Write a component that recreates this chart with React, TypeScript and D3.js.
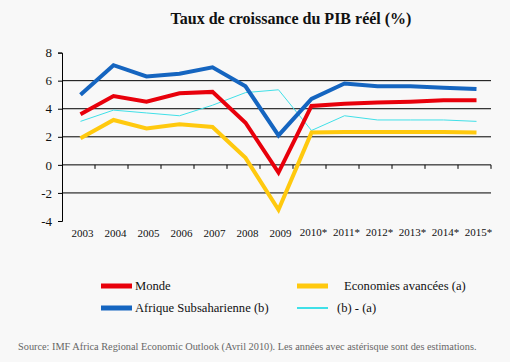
import React, { useEffect, useRef } from "react";
import * as d3 from "d3";

const years = ["2003", "2004", "2005", "2006", "2007", "2008", "2009", "2010*", "2011*", "2012*", "2013*", "2014*", "2015*"];
const monde = [3.6, 4.9, 4.5, 5.1, 5.2, 3.0, -0.55, 4.2, 4.35, 4.45, 4.5, 4.6, 4.6];
const afrique = [5.0, 7.1, 6.3, 6.5, 6.95, 5.6, 2.1, 4.7, 5.8, 5.6, 5.6, 5.5, 5.4];
const avancees = [1.9, 3.2, 2.6, 2.9, 2.7, 0.5, -3.2, 2.3, 2.35, 2.35, 2.35, 2.35, 2.3];
const ecart = [3.1, 3.9, 3.7, 3.5, 4.25, 5.15, 5.35, 2.45, 3.5, 3.2, 3.2, 3.2, 3.1];
const yTicks = [-4, -2, 0, 2, 4, 6, 8];

const series = [
  { name: "Monde", values: monde, color: "#e8000b", width: 4 },
  { name: "Economies avancées (a)", values: avancees, color: "#ffc90e", width: 4 },
  { name: "Afrique Subsaharienne (b)", values: afrique, color: "#1565c0", width: 4 },
  { name: "(b) - (a)", values: ecart, color: "#40e0e8", width: 1 },
];

export default function App() {
  const ref = useRef<SVGSVGElement>(null);

  useEffect(() => {
    const svg = d3.select(ref.current);
    svg.selectAll("*").remove();

    const width = 510;
    const height = 362;
    const left = 62, right = 491, top = 52.6, bottom = 221;

    svg.append("rect").attr("width", width).attr("height", height).attr("fill", "#f8f8f8");

    const x = d3.scaleBand().domain(years).range([left, right]);
    const y = d3.scaleLinear().domain([-4, 8]).range([bottom, top]);

    // Title
    svg.append("text")
      .attr("x", 291)
      .attr("y", 24)
      .attr("text-anchor", "middle")
      .attr("font-size", 16)
      .attr("font-weight", "bold")
      .attr("fill", "#111")
      .text("Taux de croissance du PIB réél (%)");

    // Gridlines (not at 8, -4 or the zero axis)
    svg.append("g")
      .selectAll("line")
      .data(yTicks.filter(t => t !== 8 && t !== -4 && t !== 0))
      .enter()
      .append("line")
      .attr("x1", left)
      .attr("x2", right)
      .attr("y1", d => y(d))
      .attr("y2", d => y(d))
      .attr("stroke", "#000")
      .attr("stroke-width", 1);

    // Y axis
    const yAxis = svg.append("g")
      .attr("transform", `translate(${left},0)`)
      .call(d3.axisLeft(y).tickValues(yTicks).tickSize(4).tickFormat(d3.format("d")));
    yAxis.attr("font-family", null).attr("font-size", null);
    yAxis.selectAll("path").attr("stroke", "#000");
    yAxis.selectAll("line").attr("stroke", "#000");
    yAxis.selectAll("text")
      .attr("font-size", 13)
      .attr("fill", "#111")
      .attr("x", -10)
      .text(d => (d as number) < 0 ? "-" + Math.abs(d as number) : String(d));

    // X axis at zero
    const xAxisLine = svg.append("g").attr("transform", `translate(0,${y(0)})`);
    xAxisLine.append("line")
      .attr("x1", left).attr("x2", right)
      .attr("stroke", "#000");
    xAxisLine.selectAll("line.tick")
      .data(years)
      .enter()
      .append("line")
      .attr("class", "tick")
      .attr("x1", d => (x(d) as number) + x.bandwidth())
      .attr("x2", d => (x(d) as number) + x.bandwidth())
      .attr("y1", 0)
      .attr("y2", 4)
      .attr("stroke", "#000");

    // X labels
    svg.append("g")
      .selectAll("text")
      .data(years)
      .enter()
      .append("text")
      .attr("x", d => (x(d) as number) + x.bandwidth() / 2 + 4)
      .attr("y", d => d.includes("*") ? 236 : 237)
      .attr("text-anchor", "middle")
      .attr("font-size", 11)
      .attr("fill", "#111")
      .text(d => d);

    // Lines
    const line = d3.line<number>()
      .x((_, i) => (x(years[i]) as number) + x.bandwidth() / 2 + 2)
      .y(d => y(d));

    const drawOrder = [series[3], series[1], series[0], series[2]];
    drawOrder.forEach(s => {
      svg.append("path")
        .datum(s.values)
        .attr("fill", "none")
        .attr("stroke", s.color)
        .attr("stroke-width", s.width)
        .attr("d", line);
    });

    // Legend
    const legendPos = [
      { sx: 101, ty: 286, tx: 135 },
      { sx: 297, ty: 286, tx: 344 },
      { sx: 101, ty: 308, tx: 135 },
      { sx: 297, ty: 308, tx: 337 },
    ];
    series.forEach((s, i) => {
      const p = legendPos[i];
      svg.append("line")
        .attr("x1", p.sx).attr("x2", p.sx + 31)
        .attr("y1", p.ty).attr("y2", p.ty)
        .attr("stroke", s.color)
        .attr("stroke-width", s.width + 1);
      svg.append("text")
        .attr("x", p.tx)
        .attr("y", p.ty + 4)
        .attr("font-size", 12.6)
        .attr("fill", "#111")
        .text(s.name);
    });

    // Source
    svg.append("text")
      .attr("x", 18)
      .attr("y", 350)
      .attr("font-size", 10.3)
      .attr("fill", "#666")
      .text("Source: IMF Africa Regional Economic Outlook (Avril 2010). Les années avec astérisque sont des estimations.");
  }, []);

  return (
    <svg
      ref={ref}
      width={510}
      height={362}
      style={{ position: "absolute", left: 0, top: 0, fontFamily: "'Liberation Serif', serif" }}
    ></svg>
  );
}
